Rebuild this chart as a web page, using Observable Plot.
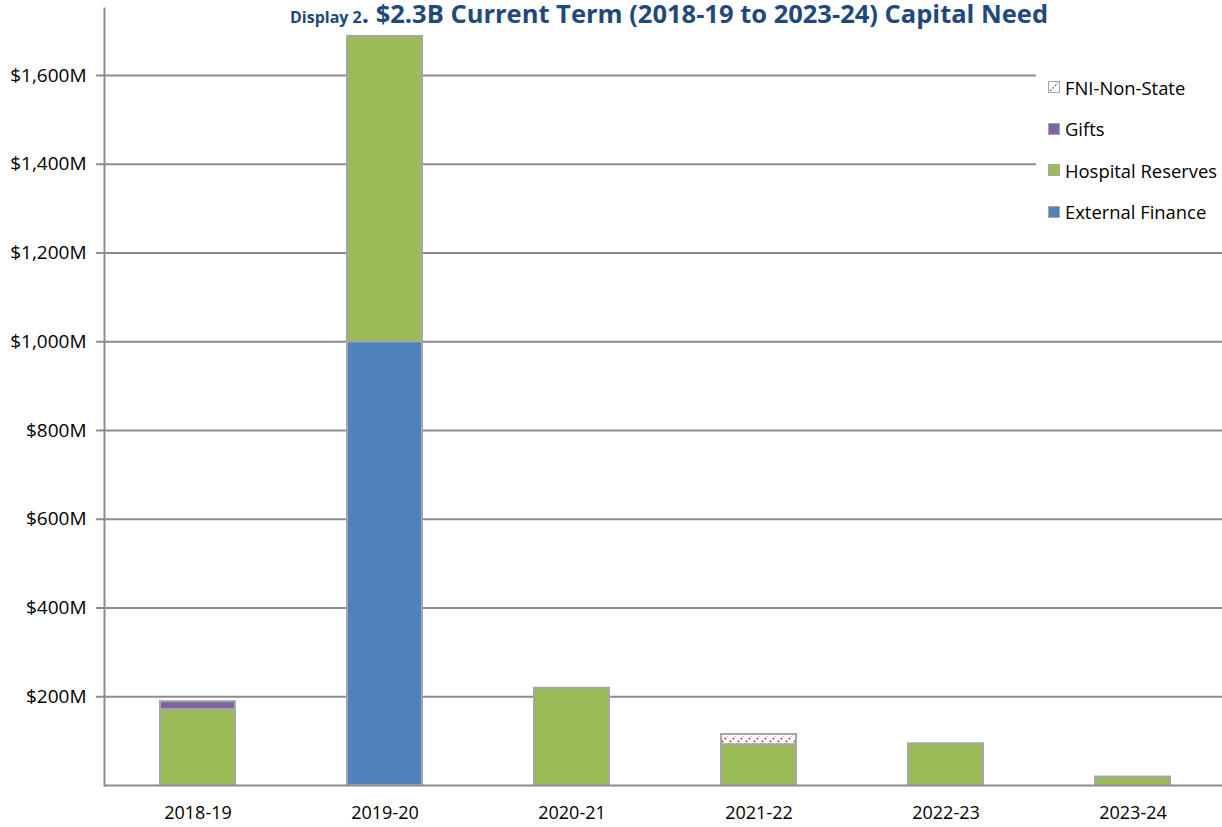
<!DOCTYPE html>
<html>
<head>
<meta charset="utf-8">
<script src="https://cdn.jsdelivr.net/npm/d3@7"></script>
<script src="https://cdn.jsdelivr.net/npm/@observablehq/plot@0.6"></script>
<style>
  body { margin: 0; background: #fff; }
  #wrap { position: relative; width: 1222px; height: 827px; overflow: hidden; font-family: "Open Sans", sans-serif; }
  #title { position: absolute; top: 0; left: 0; z-index: 3; overflow: visible; }
  #legend { position: absolute; left: 1036px; top: 62px; width: 186px; height: 172px; background: #fff; z-index: 2; }
  .item { position: absolute; left: 12px; height: 20px; font-size: 18.4px; color: #000; display: flex; align-items: center; white-space: nowrap; }
  .sw { width: 10px; height: 10px; border: 1px solid #a6a6a6; margin-right: 5px; flex: none; }
</style>
</head>
<body>
<div id="wrap">
  <svg id="title" width="1222" height="36">
    <text x="290" y="23" fill="#1f497d" font-weight="bold"><tspan font-family="Liberation Sans Narrow, Open Sans, sans-serif" font-size="16">Display 2</tspan><tspan font-family="Open Sans, sans-serif" font-size="25.5">. $2.3B Current Term (2018-19 to 2023-24) Capital Need</tspan></text>
  </svg>
  <div id="legend"></div>
  <div id="chart"></div>
</div>
<script>
const years = ["2018-19", "2019-20", "2020-21", "2021-22", "2022-23", "2023-24"];
const seriesNames = ["External Finance", "Hospital Reserves", "Gifts", "FNI-Non-State"];
const externalFinance = [0, 1000, 0, 0, 0, 0];
const hospitalReserves = [171, 688, 219, 92, 94, 19];
const gifts = [18, 0, 0, 0, 0, 0];
const fniNonState = [0, 0, 0, 23, 0, 0];
const seriesColors = ["#4f81bd", "#9bbb59", "#8064a2", "url(#hatch)"];
const yTicks = [200, 400, 600, 800, 1000, 1200, 1400, 1600];
const legendOrder = ["FNI-Non-State", "Gifts", "Hospital Reserves", "External Finance"];

const seriesValues = [externalFinance, hospitalReserves, gifts, fniNonState];
const data = [];
seriesNames.forEach((s, i) => years.forEach((y, j) => data.push({year: y, series: s, value: seriesValues[i][j]})));

const grid = "#8c8c8c";
const chart = Plot.plot({
  width: 1222,
  height: 827,
  marginLeft: 104,
  marginRight: 0,
  marginTop: 8,
  marginBottom: 42,
  style: {fontFamily: "Open Sans, sans-serif", fontSize: "18px", color: "#000", background: "#fff"},
  x: {domain: years, paddingInner: 0.6, paddingOuter: 0.3, range: [104, 1226]},
  y: {domain: [0, 1751]},
  color: {domain: seriesNames, range: seriesColors},
  marks: [
    Plot.ruleY(yTicks, {stroke: grid, strokeWidth: 2, strokeOpacity: 1}),
    Plot.barY(data, {x: "year", y: "value", fill: "series", order: seriesNames, stroke: "#a6a6a6", strokeWidth: 2}),
    Plot.ruleY([0], {stroke: grid, strokeWidth: 2}),
    Plot.frame({anchor: "left", stroke: grid, strokeWidth: 2, strokeOpacity: 1}),
    Plot.axisY(yTicks, {tickSize: 8, tickPadding: 10, stroke: grid, strokeWidth: 2, strokeOpacity: 1, fill: "#000", fontSize: 19, tickFormat: d => "$" + d3.format(",")(d) + "M", label: null}),
    Plot.axisX({tickSize: 0, tickPadding: 21, fill: "#000", fontSize: 18, label: null})
  ]
});

const svg = d3.select(chart);
const defs = svg.insert("defs", ":first-child");
const pat = defs.append("pattern").attr("id", "hatch").attr("patternUnits", "userSpaceOnUse").attr("width", 8).attr("height", 8);
pat.append("rect").attr("width", 8).attr("height", 8).attr("fill", "#fff");
pat.append("path").attr("d", "M-1,9 L9,-1").attr("stroke", "#c0504d").attr("stroke-width", 1.8).attr("stroke-dasharray", "2,2");
document.getElementById("chart").appendChild(chart);

const legend = document.getElementById("legend");
const swatchHtml = {
  "External Finance": '<span class="sw" style="background:#4f81bd"></span>',
  "Hospital Reserves": '<span class="sw" style="background:#9bbb59"></span>',
  "Gifts": '<span class="sw" style="background:#8064a2"></span>',
  "FNI-Non-State": '<span class="sw" style="background:#fff;position:relative"><svg width="10" height="10" style="position:absolute;left:0;top:0"><path d="M1,9 L9,1" stroke="#c0504d" stroke-width="1.3" stroke-dasharray="2,1.5"/></svg></span>'
};
legendOrder.forEach((name, i) => {
  const it = document.createElement("div");
  it.className = "item";
  it.style.top = (15 + i * 41.5) + "px";
  it.innerHTML = `${swatchHtml[name]}<span>${name}</span>`;
  legend.appendChild(it);
});
</script>
</body>
</html>
